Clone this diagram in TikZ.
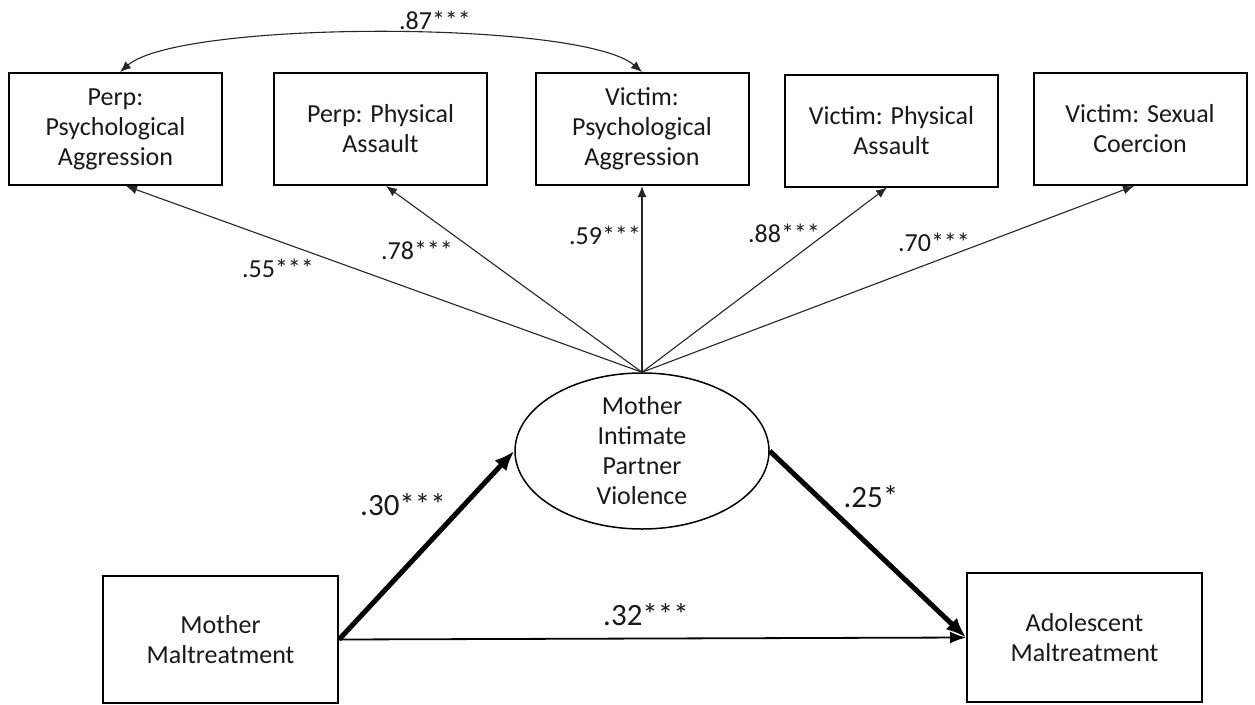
\documentclass[tikz,border=0pt]{standalone}
\usepackage{fontspec}
\setmainfont{Carlito}
\usetikzlibrary{shapes.geometric,arrows.meta}
\begin{document}
\begin{tikzpicture}[x=1pt,y=-1pt,
  obs/.style={draw, line width=2pt, rectangle, minimum width=213pt, minimum height=112pt,
    align=center, inner sep=0pt, text=black!90, font=\fontsize{26}{30}\selectfont},
  lat/.style={draw, ellipse, line width=1.5pt, minimum width=254pt, minimum height=156pt, inner sep=0pt},
  lattext/.style={align=center, inner sep=0pt, text=black!90, font=\fontsize{26}{30}\selectfont},
  thinarrow/.style={draw=black!85, line width=1.1pt, -{Latex[length=11pt,width=9pt]}},
  corrarrow/.style={draw=black!85, line width=1.1pt, {Latex[length=11pt,width=9pt]}-{Latex[length=11pt,width=9pt]}},
  midarrow/.style={draw=black, line width=1.8pt, -{Latex[length=16pt,width=12pt]}},
  thickarrow/.style={draw=black, line width=5pt, -{Latex[length=20pt,width=16pt]}},
  lab/.style={inner sep=0pt, text=black!90, font=\fontsize{26}{28}\selectfont},
  biglab/.style={inner sep=0pt, text=black!90, font=\fontsize{31}{34}\selectfont}
]
\useasboundingbox (0,0) rectangle (1255,704);
\fill[white] (0,0) rectangle (1255,704);

\node[obs] (b1) at (115.5,129) {Perp:\\Psychological\\Aggression};
\node[obs] (b2) at (380.5,129) {Perp: Physical\\Assault};
\node[obs] (b3) at (642,129) {Victim:\\Psychological\\Aggression};
\node[obs] (b4) at (891.5,130.5) {Victim: Physical\\Assault};
\node[obs] (b5) at (1140,129) {Victim: Sexual\\Coercion};

\node[obs, minimum width=235pt, minimum height=127pt] (mm) at (220.5,639.5) {Mother\\Maltreatment};
\node[obs, minimum width=235pt, minimum height=129pt] (am) at (1084.5,637.5) {Adolescent\\Maltreatment};

\node[lat] (ipv) at (642,451) {};
\node[lattext] (ipvtext) at (ipv.center) {Mother\\Intimate\\Partner\\Violence};

% loadings
\draw[thinarrow] (ipv.north) -- ([xshift=10.5pt]b1.south);
\draw[thinarrow] (ipv.north) -- ([xshift=5.5pt]b2.south);
\draw[thinarrow] (ipv.north) -- (b3.south);
\draw[thinarrow] (ipv.north) -- ([xshift=-4.5pt]b4.south);
\draw[thinarrow] (ipv.north) -- ([xshift=-6pt]b5.south);

% correlation
\draw[corrarrow] ([xshift=4.5pt]b1.north) .. controls +(60,-52) and +(-60,-52) .. (b3.north);

% structural paths
\draw[midarrow] (mm.east) -- (am.west);
\draw[thickarrow] (mm.east) -- (ipv.west);
\draw[thickarrow] (ipv.east) -- (am.west);

% labels
\node[lab] (l87) at (435,20) {.87***};
\node[lab] (l55) at (278,268) {.55***};
\node[lab] (l78) at (417,250) {.78***};
\node[lab] (l59) at (605,235) {.59***};
\node[lab] (l88) at (784,233) {.88***};
\node[lab] (l70) at (934,242) {.70***};
\node[biglab] (l30) at (403,505) {.30***};
\node[biglab] (l25) at (871,497) {.25*};
\node[biglab] (l32) at (646,615) {.32***};
\end{tikzpicture}
\end{document}
